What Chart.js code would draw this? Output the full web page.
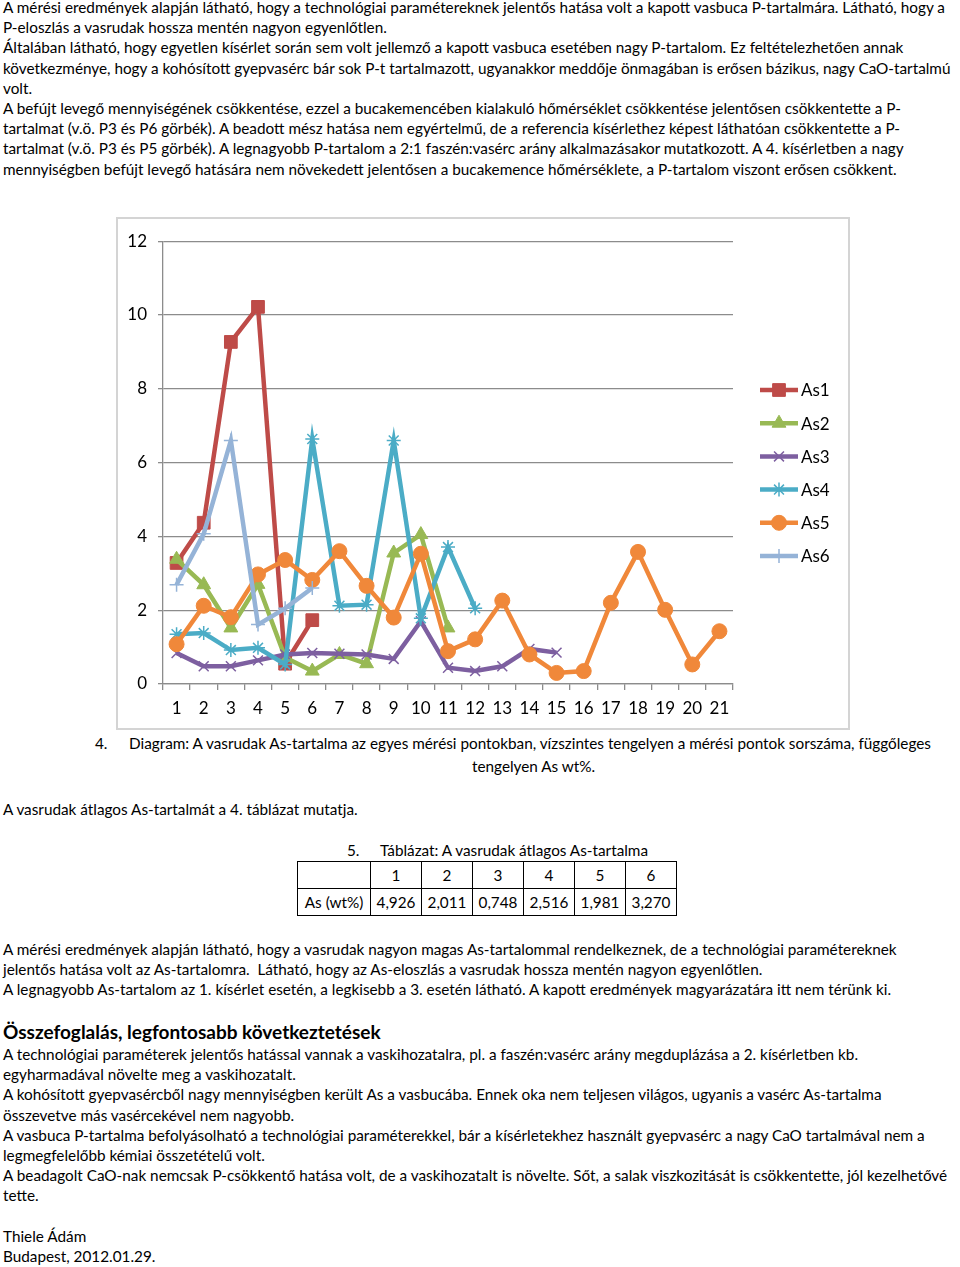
<!DOCTYPE html>
<html lang="hu">
<head>
<meta charset="utf-8">
<script src="https://cdn.jsdelivr.net/npm/chart.js@4/dist/chart.umd.min.js"></script>
<style>
  body { margin: 0; width: 960px; height: 1267px; position: relative; background: #fff; font-family: Lato, "Open Sans", sans-serif; font-size: 15.3px; color: #000; overflow: hidden; }
  .block { position: absolute; left: 3px; line-height: 20.2px; white-space: nowrap; }
  .line { height: 20.2px; }
  #frame { position: absolute; left: 116px; top: 217px; width: 730px; height: 509px; border: 2px solid #d4d4d4; box-sizing: content-box; }
  #frame canvas { position: absolute; left: 1px; top: 1px; }
  .cap { position: absolute; white-space: nowrap; }
  table { position: absolute; left: 297px; top: 861px; border-collapse: collapse; font-size: 15.3px; }
  td { border: 1px solid #000; height: 26px; padding: 0 2px; text-align: center; }
  h3 { position: absolute; left: 3px; top: 1020px; margin: 0; font-size: 19px; font-weight: bold; white-space: nowrap; }
</style>
</head>
<body>
<div class="block" style="top:-3px">
  <div class="line">A mérési eredmények alapján látható, hogy a technológiai paramétereknek jelentős hatása volt a kapott vasbuca P-tartalmára. Látható, hogy a</div>
  <div class="line">P-eloszlás a vasrudak hossza mentén nagyon egyenlőtlen.</div>
  <div class="line">Általában látható, hogy egyetlen kísérlet során sem volt jellemző a kapott vasbuca esetében nagy P-tartalom. Ez feltételezhetően annak</div>
  <div class="line">következménye, hogy a kohósított gyepvasérc bár sok P-t tartalmazott, ugyanakkor meddője önmagában is erősen bázikus, nagy CaO-tartalmú</div>
  <div class="line">volt.</div>
  <div class="line">A befújt levegő mennyiségének csökkentése, ezzel a bucakemencében kialakuló hőmérséklet csökkentése jelentősen csökkentette a P-</div>
  <div class="line">tartalmat (v.ö. P3 és P6 görbék). A beadott mész hatása nem egyértelmű, de a referencia kísérlethez képest láthatóan csökkentette a P-</div>
  <div class="line">tartalmat (v.ö. P3 és P5 görbék). A legnagyobb P-tartalom a 2:1 faszén:vasérc arány alkalmazásakor mutatkozott. A 4. kísérletben a nagy</div>
  <div class="line">mennyiségben befújt levegő hatására nem növekedett jelentősen a bucakemence hőmérséklete, a P-tartalom viszont erősen csökkent.</div>
</div>

<div id="frame"><canvas id="chart" width="726" height="505"></canvas></div>

<div class="cap" style="left:95px; top:734px">4.</div>
<div class="cap" style="left:129px; top:734px">Diagram: A vasrudak As-tartalma az egyes mérési pontokban, vízszintes tengelyen a mérési pontok sorszáma, függőleges</div>
<div class="cap" style="left:472px; top:757px">tengelyen As wt%.</div>
<div class="cap" style="left:3px; top:800px">A vasrudak átlagos As-tartalmát a 4. táblázat mutatja.</div>
<div class="cap" style="left:347px; top:841px">5.</div>
<div class="cap" style="left:380px; top:841px">Táblázat: A vasrudak átlagos As-tartalma</div>
<table id="avg"></table>

<div class="block" style="top:939px">
  <div class="line">A mérési eredmények alapján látható, hogy a vasrudak nagyon magas As-tartalommal rendelkeznek, de a technológiai paramétereknek</div>
  <div class="line">jelentős hatása volt az As-tartalomra.&nbsp; Látható, hogy az As-eloszlás a vasrudak hossza mentén nagyon egyenlőtlen.</div>
  <div class="line">A legnagyobb As-tartalom az 1. kísérlet esetén, a legkisebb a 3. esetén látható. A kapott eredmények magyarázatára itt nem térünk ki.</div>
</div>
<h3>Összefoglalás, legfontosabb következtetések</h3>
<div class="block" style="top:1044px">
  <div class="line">A technológiai paraméterek jelentős hatással vannak a vaskihozatalra, pl. a faszén:vasérc arány megduplázása a 2. kísérletben kb.</div>
  <div class="line">egyharmadával növelte meg a vaskihozatalt.</div>
  <div class="line">A kohósított gyepvasércből nagy mennyiségben került As a vasbucába. Ennek oka nem teljesen világos, ugyanis a vasérc As-tartalma</div>
  <div class="line">összevetve más vasércekével nem nagyobb.</div>
  <div class="line">A vasbuca P-tartalma befolyásolható a technológiai paraméterekkel, bár a kísérletekhez használt gyepvasérc a nagy CaO tartalmával nem a</div>
  <div class="line">legmegfelelőbb kémiai összetételű volt.</div>
  <div class="line">A beadagolt CaO-nak nemcsak P-csökkentő hatása volt, de a vaskihozatalt is növelte. Sőt, a salak viszkozitását is csökkentette, jól kezelhetővé</div>
  <div class="line">tette.</div>
</div>
<div class="block" style="top:1226px">
  <div class="line">Thiele Ádám</div>
  <div class="line">Budapest, 2012.01.29.</div>
</div>

<script>
// measuring points on the x axis
const points = ['1', '2', '3', '4', '5', '6', '7', '8', '9', '10', '11', '12', '13', '14', '15', '16', '17', '18', '19', '20', '21'];

const as1 = [3.28, 4.37, 9.27, 10.22, 0.55, 1.73];
const as2 = [3.38, 2.69, 1.52, 2.70, 0.72, 0.35, 0.80, 0.55, 3.55, 4.05, 1.52];
const as3 = [0.84, 0.48, 0.48, 0.64, 0.80, 0.84, 0.82, 0.80, 0.68, 1.70, 0.44, 0.35, 0.48, 0.95, 0.85];
const as4 = [1.35, 1.38, 0.92, 0.98, 0.53, 6.64, 2.12, 2.15, 6.60, 1.78, 3.71, 2.05];
const as5 = [1.08, 2.12, 1.81, 2.97, 3.36, 2.82, 3.60, 2.66, 1.80, 3.53, 0.89, 1.21, 2.26, 0.80, 0.30, 0.35, 2.20, 3.58, 2.01, 0.53, 1.43];
const as6 = [2.69, 4.07, 6.60, 1.61, 2.05, 2.60];

const yTicks = [0, 2, 4, 6, 8, 10, 12];

// table 5: average As content
const tableHead = ['1', '2', '3', '4', '5', '6'];
const tableAvg = ['4,926', '2,011', '0,748', '2,516', '1,981', '3,270'];

const series = [
    { label: 'As1', data: as1, color: '#BE4B48', style: 'rect', radius: 9, bw: 1 },
    { label: 'As2', data: as2, color: '#98B954', style: 'triangle', radius: 8, bw: 1 },
    { label: 'As3', data: as3, color: '#7D5FA0', style: 'crossRot', radius: 7, bw: 1.5 },
    { label: 'As4', data: as4, color: '#4BACC6', style: 'star', radius: 7, bw: 1.5 },
    { label: 'As5', data: as5, color: '#F0883A', style: 'circle', radius: 7.5, bw: 1 },
    { label: 'As6', data: as6, color: '#95B3D7', style: 'cross', radius: 7, bw: 1.5 }
];

// build the table
const tbl = document.getElementById('avg');
tbl.innerHTML = '<tr><td style="width:68px"></td>' + tableHead.map(h => `<td style="width:46px">${h}</td>`).join('') + '</tr>' +
    '<tr><td>As (wt%)</td>' + tableAvg.map(v => `<td>${v}</td>`).join('') + '</tr>';

const fontFam = 'Lato, "Open Sans", sans-serif';

// legend like excel: short line with the marker in the middle
const sideLegend = {
    id: 'sideLegend',
    afterDraw(chart) {
        const ctx = chart.ctx;
        const x0 = 641, x1 = 679, yStart = 170, gap = 33.2;
        chart.data.datasets.forEach((ds, i) => {
            const y = yStart + i * gap;
            ctx.save();
            ctx.strokeStyle = ds.borderColor;
            ctx.lineWidth = 4.5;
            ctx.beginPath();
            ctx.moveTo(x0, y);
            ctx.lineTo(x1, y);
            ctx.stroke();
            ctx.fillStyle = ds.pointBackgroundColor;
            ctx.strokeStyle = ds.pointBorderColor;
            ctx.lineWidth = ds.pointBorderWidth;
            Chart.helpers.drawPoint(ctx, { pointStyle: ds.pointStyle, radius: ds.pointRadius, rotation: 0, borderWidth: ds.pointBorderWidth }, (x0 + x1) / 2, y);
            ctx.fillStyle = '#000';
            ctx.font = '17px ' + fontFam;
            ctx.textBaseline = 'middle';
            ctx.fillText(ds.label, 682, y + 1);
            ctx.restore();
        });
    }
};

new Chart(document.getElementById('chart'), {
    type: 'line',
    data: {
        labels: points,
        datasets: series.map((s, i) => ({
            label: s.label,
            data: s.data,
            borderColor: s.color,
            backgroundColor: s.color,
            borderWidth: 4.5,
            tension: 0,
            fill: false,
            pointStyle: s.style,
            pointRadius: s.radius,
            pointBorderWidth: s.bw,
            pointBackgroundColor: s.color,
            pointBorderColor: s.color,
            order: series.length - i
        }))
    },
    options: {
        responsive: false,
        animation: false,
        layout: { padding: { top: 14, right: 112, left: 0, bottom: 0 } },
        plugins: { legend: { display: false }, tooltip: { enabled: false } },
        scales: {
            x: {
                type: 'category',
                offset: true,
                grid: { offset: true, drawOnChartArea: false, tickLength: 6, color: '#8c8c8c', lineWidth: 1.3 },
                border: { color: '#8c8c8c', width: 1.3 },
                ticks: { color: '#000', font: { size: 17, family: fontFam }, padding: 8, maxRotation: 0, autoSkip: false },
                afterFit: s => { s.height = 41; }
            },
            y: {
                min: yTicks[0],
                max: yTicks[yTicks.length - 1],
                afterBuildTicks: s => { s.ticks = yTicks.map(v => ({ value: v })); },
                grid: { color: '#8c8c8c', lineWidth: 1.3, tickLength: 5 },
                border: { color: '#8c8c8c', width: 1.3 },
                ticks: { color: '#000', font: { size: 17, family: fontFam }, padding: 11 },
                afterFit: s => { s.width = 44; }
            }
        }
    },
    plugins: [sideLegend]
});
</script>
</body>
</html>
